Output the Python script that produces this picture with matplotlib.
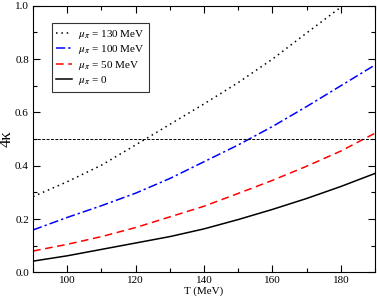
import matplotlib
matplotlib.use("Agg")
import matplotlib.pyplot as plt
from matplotlib.ticker import MultipleLocator, FormatStrFormatter

# ----- data -----
T = [90, 100, 110, 120, 130, 140, 150, 160, 170, 180, 190]
k_mu0 = [0.042, 0.062, 0.086, 0.110, 0.134, 0.163, 0.198, 0.236, 0.277, 0.322, 0.371]
k_mu50 = [0.080, 0.105, 0.134, 0.168, 0.208, 0.248, 0.296, 0.345, 0.398, 0.455, 0.522]
k_mu100 = [0.159, 0.206, 0.250, 0.297, 0.352, 0.415, 0.478, 0.547, 0.622, 0.700, 0.778]

T_130 = [90, 100, 110, 120, 130, 140, 150, 160, 170, 180, 181]
k_mu130 = [0.284, 0.340, 0.402, 0.478, 0.555, 0.632, 0.712, 0.800, 0.898, 0.995, 1.005]

labels = [r"$\mu_\pi$ = 130 MeV", r"$\mu_\pi$ = 100 MeV", r"$\mu_\pi$ = 50 MeV", r"$\mu_\pi$ = 0"]
# ---------------------------------------

plt.rcParams["font.family"] = ["Liberation Serif", "DejaVu Serif"]
plt.rcParams["mathtext.fontset"] = "stix"

fig = plt.figure(figsize=(3.77, 2.98), dpi=100)
ax = fig.add_axes([0.0878, 0.0862, 0.9069, 0.8943])

ax.plot(T_130, k_mu130, color="black", linestyle=(0, (1, 2.5)), lw=1.1, label=labels[0])
ax.plot(T, k_mu100, color="blue", linestyle=(0, (6, 2, 1.5, 2)), lw=1.1, label=labels[1])
ax.plot(T, k_mu50, color="red", linestyle=(0, (5, 3)), lw=1.1, label=labels[2])
ax.plot(T, k_mu0, color="black", linestyle="-", lw=1.1, label=labels[3])
ax.axhline(0.5, color="black", linestyle=(0, (3, 1.5)), lw=0.7)

ax.set_xlim(90, 190)
ax.set_ylim(0, 1.0)
ax.xaxis.set_major_locator(MultipleLocator(20))
ax.xaxis.set_minor_locator(MultipleLocator(10))
ax.yaxis.set_major_locator(MultipleLocator(0.2))
ax.yaxis.set_minor_locator(MultipleLocator(0.1))
ax.yaxis.set_major_formatter(FormatStrFormatter("%.1f"))
ax.tick_params(which="both", direction="in", top=True, right=True, labelsize=8, pad=3)
ax.tick_params(which="major", length=5, width=0.8)
ax.tick_params(which="minor", length=3, width=0.8)

ax.set_xlabel("T (MeV)", fontsize=8, labelpad=1)
ax.set_ylabel("4κ", fontsize=12, labelpad=0)

leg = ax.legend(loc="upper left", bbox_to_anchor=(0.055, 0.934), borderaxespad=0,
                fontsize=8, frameon=True, fancybox=False, edgecolor="black",
                handlelength=1.45, handletextpad=0.5, borderpad=0.4,
                labelspacing=0.22)
leg.get_frame().set_linewidth(0.8)

plt.savefig("out.png", dpi=100)
